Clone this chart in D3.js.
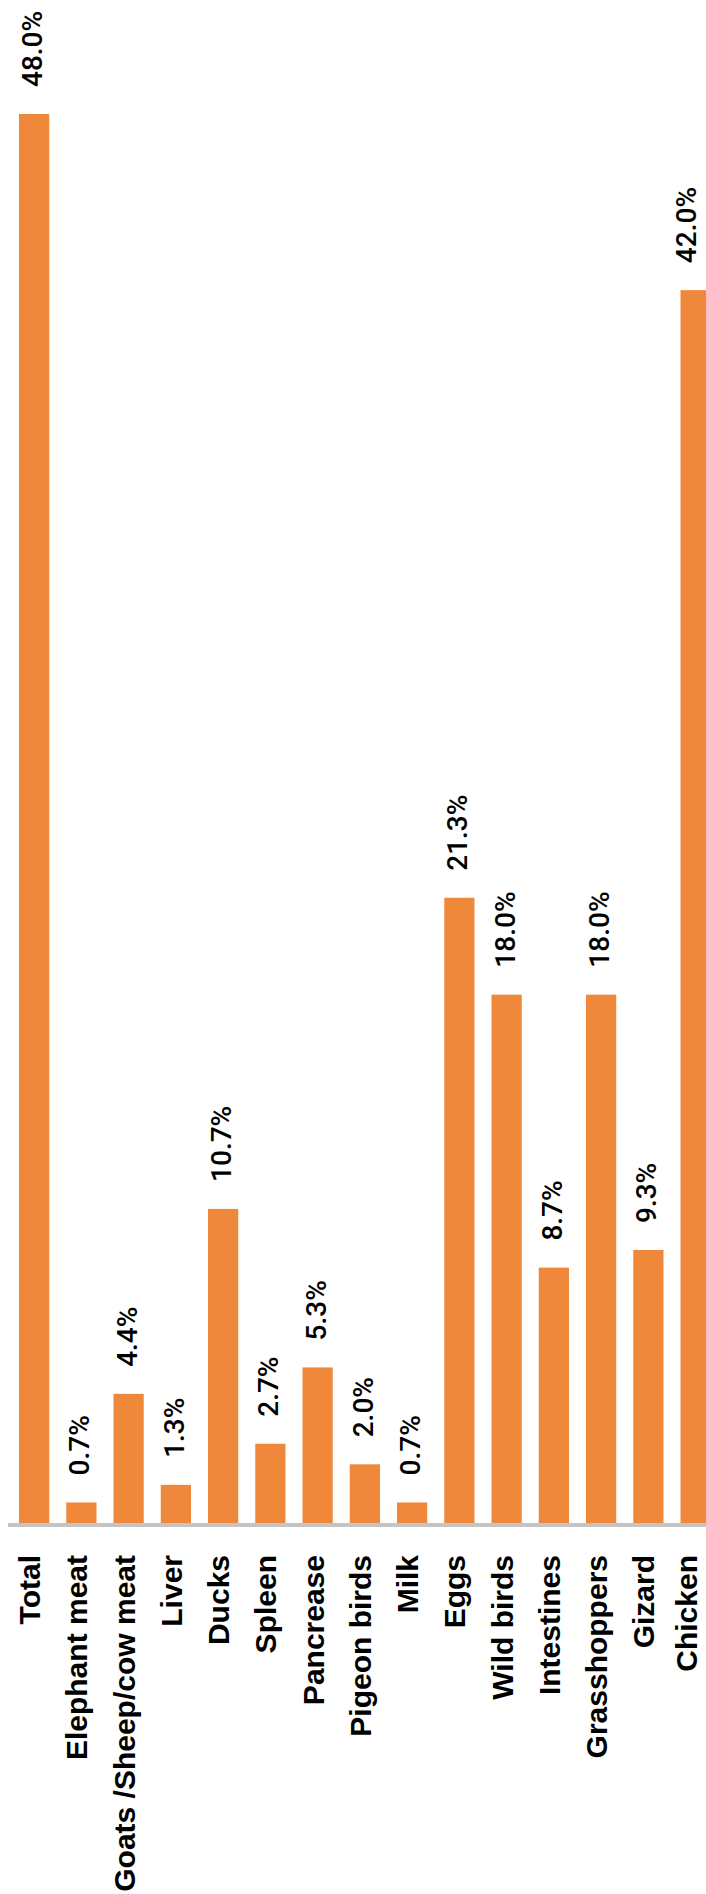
<!DOCTYPE html>
<html>
<head>
<meta charset="utf-8">
<script src="https://cdn.jsdelivr.net/npm/d3@7"></script>
<style>
    body { margin: 0; background: white; }
    svg { display: block; }
</style>
</head>
<body>
<svg id="main-svg"></svg>
<script>
// categories and values
const categories = ["Total", "Elephant meat", "Goats /Sheep/cow meat", "Liver", "Ducks", "Spleen",
    "Pancrease", "Pigeon birds", "Milk", "Eggs", "Wild birds", "Intestines", "Grasshoppers",
    "Gizard", "Chicken"];
const percents = [48.0, 0.7, 4.4, 1.3, 10.7, 2.7, 5.3, 2.0, 0.7, 21.3, 18.0, 8.7, 18.0, 9.3, 42.0];
const valueLabels = ["48.0%", "0.7%", "4.4%", "1.3%", "10.7%", "2.7%", "5.3%", "2.0%", "0.7%",
    "21.3%", "18.0%", "8.7%", "18.0%", "9.3%", "42.0%"];

const data = categories.map((c, i) => ({ name: c, value: percents[i], label: valueLabels[i] }));

const contentWidth = 706;
const contentHeight = 1894;
const svg = d3.select("#main-svg")
    .attr("width", contentWidth)
    .attr("height", contentHeight);

// the chart runs off the right edge, so the band range goes past the window
const baseline = 1523;
const x = d3.scaleBand()
    .domain(categories)
    .range([10.5, 719.25])
    .paddingInner(0.36)
    .paddingOuter(0.18);

const y = d3.scaleLinear()
    .domain([0, 48])
    .range([baseline, 114]);

// keep the rotated texts inside the window on the right
const labelX = (d, off, maxX) => Math.min(x(d.name) + x.bandwidth() / 2 + off, maxX);

// bars
svg.append("g")
    .selectAll("rect")
    .data(data)
    .enter().append("rect")
    .attr("x", d => x(d.name))
    .attr("y", d => y(d.value))
    .attr("width", x.bandwidth())
    .attr("height", d => baseline - y(d.value))
    .attr("fill", "#F0883B");

// axis line
svg.append("line")
    .attr("x1", 8)
    .attr("x2", contentWidth)
    .attr("y1", baseline + 2)
    .attr("y2", baseline + 2)
    .attr("stroke", "#c4c4c4")
    .attr("stroke-width", 4);

// value labels, rotated above each bar
svg.append("g")
    .selectAll("text")
    .data(data)
    .enter().append("text")
    .attr("transform", d => `translate(${labelX(d, 8, 696)},${y(d.value) - 27}) rotate(-90)`)
    .attr("text-anchor", "start")
    .attr("font-family", "Roboto, 'Liberation Sans', Arial, sans-serif")
    .attr("font-weight", 500)
    .attr("font-size", "28px")
    .attr("fill", "#000")
    .text(d => d.label);

// category labels under the axis
svg.append("g")
    .selectAll("text")
    .data(data)
    .enter().append("text")
    .attr("transform", d => `translate(${labelX(d, 6, 697)},1555) rotate(-90)`)
    .attr("text-anchor", "end")
    .attr("font-family", "'Liberation Sans', Arial, sans-serif")
    .attr("font-weight", "bold")
    .attr("font-size", "30px")
    .attr("fill", "#000")
    .text(d => d.name);
</script>
</body>
</html>
